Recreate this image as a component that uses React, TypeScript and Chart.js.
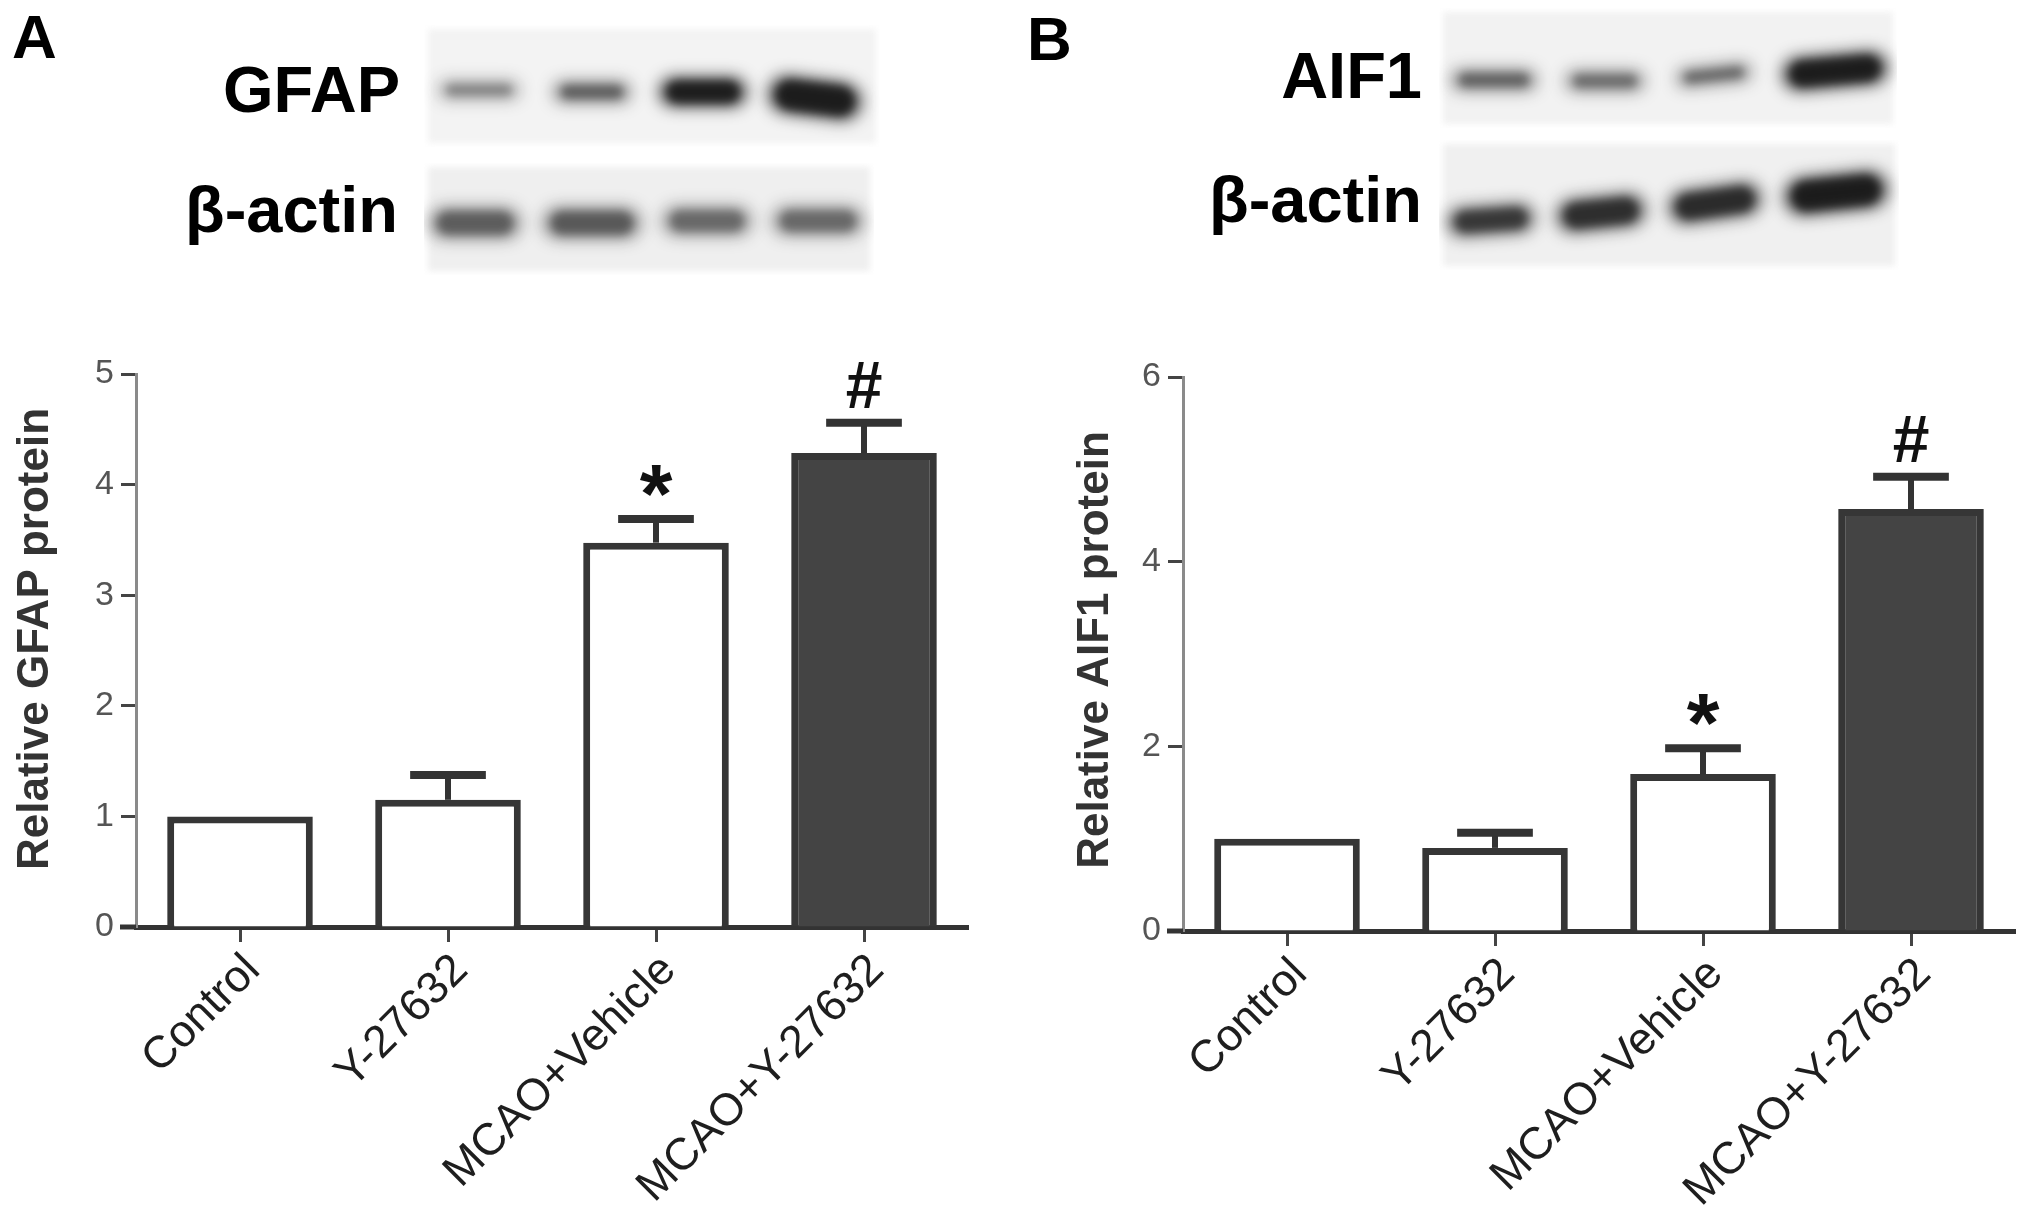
import React, { useEffect, useRef } from 'react';
import { Chart, registerables } from 'chart.js';

Chart.register(...registerables);

const FONT = "'Liberation Sans', Arial, Helvetica, sans-serif";

// ---------------- data ----------------
const categories = ['Control', 'Y-27632', 'MCAO+Vehicle', 'MCAO+Y-27632'];

const gfapMean = [1.0, 1.15, 3.475, 4.285];
const gfapSem = [0, 0.225, 0.215, 0.275];
const gfapSig = ['', '', '*', '#'];
const gfapYTicks = [0, 1, 2, 3, 4, 5];

const aif1Mean = [1.0, 0.9, 1.7, 4.57];
const aif1Sem = [0, 0.165, 0.28, 0.35];
const aif1Sig = ['', '', '*', '#'];
const aif1YTicks = [0, 2, 4, 6];

const barFill = ['#ffffff', '#ffffff', '#ffffff', '#444444'];

// western blot band darkness per lane (0 = none, 1 = black)
const gfapBlot = [0.42, 0.6, 1.0, 1.0];
const actinBlotA = [0.58, 0.6, 0.52, 0.52];
const aif1Blot = [0.58, 0.52, 0.55, 1.0];
const actinBlotB = [0.8, 0.86, 0.88, 1.0];

// ---------------- blots ----------------
type Band = { cx: number; cy: number; w: number; h: number; tilt?: number };

function Blot({ left, top, width, height, bands, dark, bg }: {
  left: number; top: number; width: number; height: number; bands: Band[]; dark: number[]; bg: string;
}) {
  const ref = useRef<HTMLCanvasElement>(null);
  useEffect(() => {
    const c = ref.current!;
    const ctx = c.getContext('2d')!;
    ctx.clearRect(0, 0, width, height);
    ctx.save();
    ctx.filter = 'blur(3px)';
    ctx.fillStyle = bg;
    ctx.fillRect(4, 4, width - 8, height - 8);
    ctx.restore();
    bands.forEach((b, i) => {
      const d = dark[i];
      ctx.save();
      ctx.translate(b.cx, b.cy);
      ctx.rotate(((b.tilt || 0) * Math.PI) / 180);
      ctx.filter = 'blur(8px)';
      ctx.fillStyle = `rgba(25,25,25,${Math.min(1, d * 0.8)})`;
      ctx.beginPath();
      (ctx as any).roundRect(-b.w / 2, -b.h / 2, b.w, b.h, b.h / 2);
      ctx.fill();
      ctx.filter = 'blur(4px)';
      ctx.fillStyle = `rgba(0,0,0,${d * 0.6})`;
      ctx.beginPath();
      (ctx as any).roundRect(-b.w / 2 + 8, -b.h / 2 + 4, b.w - 16, b.h - 8, (b.h - 8) / 2);
      ctx.fill();
      ctx.restore();
    });
  }, []);
  return (
    <canvas
      ref={ref}
      width={width}
      height={height}
      style={{ position: 'absolute', left, top, width, height }}
    />
  );
}

// ---------------- chart plugin ----------------
const markFont: Record<string, string> = {
  '*': `bold 84px ${FONT}`,
  '#': `bold 66px ${FONT}`,
};

const errorBarPlugin = {
  id: 'errorBars',
  afterDatasetsDraw(chart: any, _args: any, opts: any) {
    const { ctx } = chart;
    const y = chart.scales.y;
    const meta = chart.getDatasetMeta(0);
    const means: number[] = opts.means;
    const sems: number[] = opts.sems;
    const sigs: string[] = opts.sigs;
    ctx.save();
    ctx.strokeStyle = '#333333';
    ctx.lineCap = 'butt';
    meta.data.forEach((bar: any, i: number) => {
      const e = sems[i];
      if (!e) return;
      const top = y.getPixelForValue(means[i] + e);
      const half = bar.width * 0.26;
      ctx.lineWidth = 6;
      ctx.beginPath();
      ctx.moveTo(bar.x, bar.y);
      ctx.lineTo(bar.x, top);
      ctx.stroke();
      ctx.lineWidth = 8;
      ctx.beginPath();
      ctx.moveTo(bar.x - half, top);
      ctx.lineTo(bar.x + half, top);
      ctx.stroke();
    });
    sigs.forEach((m, i) => {
      if (!m) return;
      const bar = meta.data[i];
      const capY = y.getPixelForValue(means[i] + sems[i]);
      ctx.font = markFont[m];
      ctx.textAlign = 'center';
      ctx.textBaseline = 'alphabetic';
      ctx.fillStyle = '#111111';
      const mt = ctx.measureText(m);
      const off = (mt.actualBoundingBoxAscent - mt.actualBoundingBoxDescent) / 2;
      ctx.fillText(m, bar.x, capY - 38 + off);
    });
    ctx.restore();
  },
  afterDraw(chart: any, _args: any, opts: any) {
    const { ctx, chartArea } = chart;
    ctx.save();
    ctx.strokeStyle = '#333333';
    ctx.lineWidth = 5;
    ctx.beginPath();
    ctx.moveTo(chartArea.left - 16, chartArea.bottom);
    ctx.lineTo(chartArea.left, chartArea.bottom);
    ctx.stroke();
    // y-axis title
    ctx.translate(opts.titleX, opts.titleY);
    ctx.rotate(-Math.PI / 2);
    ctx.font = `bold 44px ${FONT}`;
    ctx.fillStyle = '#333333';
    ctx.textAlign = 'center';
    ctx.textBaseline = 'middle';
    ctx.fillText(opts.title, 0, 0);
    ctx.restore();
  },
};

function BarPanel(props: {
  left: number; top: number; width: number; height: number;
  means: number[]; sems: number[]; sigs: string[]; yTicks: number[];
  yTitle: string; padTop: number; padRight: number; yWidth: number; xHeight: number;
  titleX: number; titleY: number;
}) {
  const ref = useRef<HTMLCanvasElement>(null);
  useEffect(() => {
    const { means, sems, sigs, yTicks } = props;
    const chart = new Chart(ref.current!, {
      type: 'bar',
      data: {
        labels: categories,
        datasets: [
          {
            data: means,
            backgroundColor: barFill,
            borderColor: '#363636',
            borderWidth: 7,
            barPercentage: 0.7,
            categoryPercentage: 1.0,
          },
        ],
      },
      options: {
        responsive: false,
        animation: false,
        devicePixelRatio: 1,
        layout: { padding: { top: props.padTop, right: props.padRight, left: 0, bottom: 0 } },
        plugins: {
          legend: { display: false },
          tooltip: { enabled: false },
          errorBars: { means, sems, sigs, title: props.yTitle, titleX: props.titleX, titleY: props.titleY },
        } as any,
        scales: {
          x: {
            z: 1,
            offset: true,
            grid: {
              display: true,
              drawOnChartArea: false,
              drawTicks: true,
              tickLength: 15,
              tickWidth: 3,
              tickColor: '#444444',
              offset: false,
            },
            border: { display: true, width: 5, color: '#333333' },
            ticks: {
              autoSkip: false,
              minRotation: 45,
              maxRotation: 45,
              padding: 2,
              labelOffset: 13,
              color: '#1e1e1e',
              font: { family: FONT, size: 45 },
            },
            afterFit: (s: any) => {
              s.height = props.xHeight;
            },
          },
          y: {
            min: 0,
            max: yTicks[yTicks.length - 1],
            afterBuildTicks: (s: any) => {
              s.ticks = yTicks.map((v) => ({ value: v }));
            },
            grid: {
              display: true,
              drawOnChartArea: false,
              drawTicks: true,
              tickLength: 15,
              tickWidth: 3,
              tickColor: '#444444',
            },
            border: { display: true, width: 3, color: '#8a8a8a' },
            ticks: {
              padding: 7,
              color: '#555555',
              font: { family: FONT, size: 34 },
            },
            title: { display: false },
            afterFit: (s: any) => {
              s.width = props.yWidth;
            },
          },
        },
      },
      plugins: [errorBarPlugin as any],
    });
    return () => chart.destroy();
  }, []);
  return (
    <canvas
      ref={ref}
      width={props.width}
      height={props.height}
      style={{ position: 'absolute', left: props.left, top: props.top, width: props.width, height: props.height }}
    />
  );
}

function Text({ text, x, baseline, size, align = 'left' }: {
  text: string; x: number; baseline: number; size: number; align?: 'left' | 'right';
}) {
  const top = baseline - 0.8465 * size;
  const style: React.CSSProperties = {
    position: 'absolute',
    top,
    fontFamily: FONT,
    fontWeight: 'bold',
    fontSize: size,
    lineHeight: `${size}px`,
    color: '#000',
    whiteSpace: 'nowrap',
  };
  if (align === 'right') style.right = 2031 - x;
  else style.left = x;
  return <div style={style}>{text}</div>;
}

export default function App() {
  return (
    <div
      style={{
        position: 'absolute',
        left: 0,
        top: 0,
        width: 2031,
        height: 1214,
        background: '#ffffff',
        overflow: 'hidden',
      }}
    >
      {/* Panel labels */}
      <Text text="A" x={12} baseline={58} size={62} />
      <Text text="B" x={1027} baseline={60} size={62} />

      {/* Blot labels */}
      <Text text="GFAP" x={400} baseline={112} size={65} align="right" />
      <Text text="β-actin" x={398} baseline={232} size={65} align="right" />
      <Text text="AIF1" x={1422} baseline={98} size={65} align="right" />
      <Text text="β-actin" x={1422} baseline={222} size={65} align="right" />

      {/* Blots */}
      <Blot
        left={424} top={25} width={456} height={122} bg="#f3f3f3" dark={gfapBlot}
        bands={[
          { cx: 55, cy: 65, w: 82, h: 20 },
          { cx: 168, cy: 67, w: 78, h: 22 },
          { cx: 279, cy: 67, w: 88, h: 30 },
          { cx: 391, cy: 73, w: 94, h: 38, tilt: 7 },
        ]}
      />
      <Blot
        left={424} top={163} width={450} height={112} bg="#efefef" dark={actinBlotA}
        bands={[
          { cx: 51, cy: 60, w: 92, h: 32 },
          { cx: 168, cy: 60, w: 98, h: 32 },
          { cx: 283, cy: 58, w: 90, h: 30 },
          { cx: 394, cy: 58, w: 92, h: 30 },
        ]}
      />
      <Blot
        left={1439} top={8} width={458} height={120} bg="#f2f2f2" dark={aif1Blot}
        bands={[
          { cx: 55, cy: 72, w: 86, h: 22 },
          { cx: 166, cy: 73, w: 80, h: 22 },
          { cx: 275, cy: 67, w: 76, h: 20, tilt: -6 },
          { cx: 396, cy: 63, w: 106, h: 34, tilt: -5 },
        ]}
      />
      <Blot
        left={1439} top={140} width={460} height={130} bg="#f0f0f0" dark={actinBlotB}
        bands={[
          { cx: 52, cy: 80, w: 88, h: 30, tilt: -4 },
          { cx: 162, cy: 73, w: 90, h: 34, tilt: -6 },
          { cx: 276, cy: 63, w: 94, h: 34, tilt: -8 },
          { cx: 397, cy: 53, w: 104, h: 38, tilt: -6 },
        ]}
      />

      {/* Bar charts */}
      <BarPanel
        left={0} top={300} width={1015} height={914}
        means={gfapMean} sems={gfapSem} sigs={gfapSig} yTicks={gfapYTicks}
        yTitle="Relative GFAP protein"
        padTop={74} padRight={47} yWidth={136} xHeight={287}
        titleX={36} titleY={339}
      />
      <BarPanel
        left={1045} top={300} width={986} height={914}
        means={aif1Mean} sems={aif1Sem} sigs={aif1Sig} yTicks={aif1YTicks}
        yTitle="Relative AIF1 protein"
        padTop={77} padRight={16} yWidth={138} xHeight={283}
        titleX={51} titleY={350}
      />
    </div>
  );
}
